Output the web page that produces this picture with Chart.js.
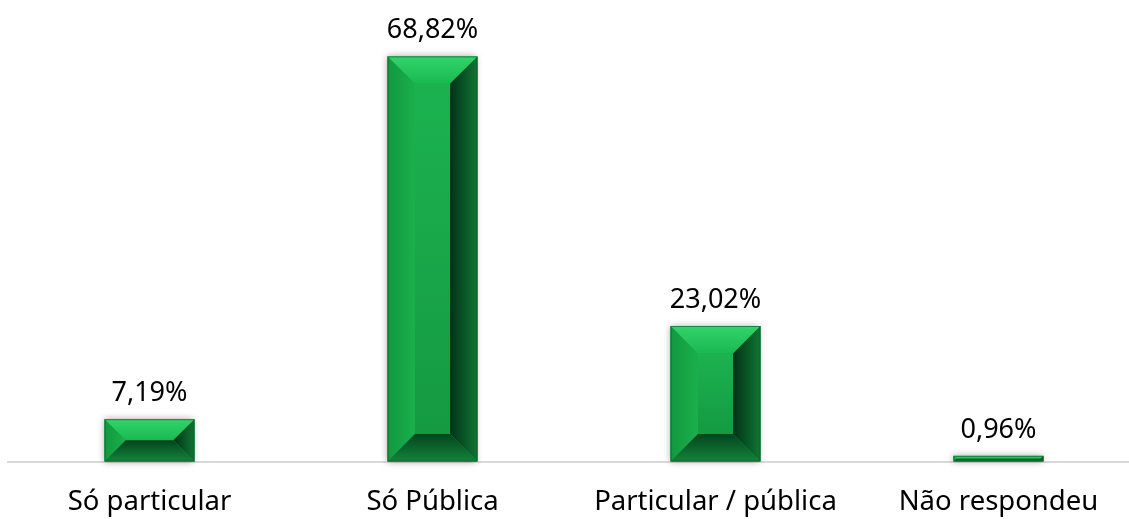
<!DOCTYPE html>
<html>
<head>
<meta charset="utf-8">
<script src="https://cdn.jsdelivr.net/npm/chart.js@4/dist/chart.umd.min.js"></script>
<style>
  html, body { margin: 0; padding: 0; background: #fff; overflow: hidden; }
  #wrap { position: absolute; left: 0; top: 0; width: 1140px; height: 519px; }
</style>
</head>
<body>
<div id="wrap"><canvas id="chart"></canvas></div>
<script>
// categories and values (percent)
const categories = ['Só particular', 'Só Pública', 'Particular / pública', 'Não respondeu'];
const values = [7.19, 68.82, 23.02, 0.96];

const fmtPct = v => v.toFixed(2).replace('.', ',') + '%';

// bevelled green bars + value labels on top
const bevelBars = {
    id: 'bevelBars',
    afterDatasetsDraw(chart) {
        const ctx = chart.ctx;
        const meta = chart.getDatasetMeta(0);
        meta.data.forEach((bar, i) => {
            const p = bar.getProps(['x', 'y', 'base', 'width'], true);
            const l = p.x - p.width / 2, r = p.x + p.width / 2;
            const t = p.y, b = p.base;
            const h = b - t;
            const d = Math.min(p.width * 0.305, h / 2);
            const il = l + d, ir = r - d, it = t + d, ib = b - d;

            ctx.save();
            // soft shadow
            ctx.shadowColor = 'rgba(0,0,0,0.35)';
            ctx.shadowBlur = 7;
            ctx.shadowOffsetX = -1;
            ctx.fillStyle = '#15a346';
            ctx.fillRect(l, t, r - l, h);
            ctx.restore();

            ctx.save();
            const face = (pts, fill) => {
                ctx.beginPath();
                ctx.moveTo(pts[0][0], pts[0][1]);
                for (let k = 1; k < pts.length; k++) ctx.lineTo(pts[k][0], pts[k][1]);
                ctx.closePath();
                ctx.fillStyle = fill;
                ctx.fill();
            };
            // top face
            let g = ctx.createLinearGradient(0, t, 0, it);
            g.addColorStop(0, '#33d46c'); g.addColorStop(1, '#1ab851');
            face([[l, t], [r, t], [ir, it], [il, it]], g);
            // left face
            g = ctx.createLinearGradient(l, 0, il, 0);
            g.addColorStop(0, '#12983f'); g.addColorStop(1, '#1ab04d');
            face([[l, t], [il, it], [il, ib], [l, b]], g);
            // right face
            g = ctx.createLinearGradient(ir, 0, r, 0);
            g.addColorStop(0, '#02301a'); g.addColorStop(0.5, '#085524'); g.addColorStop(1, '#117535');
            face([[r, t], [r, b], [ir, ib], [ir, it]], g);
            // bottom face
            g = ctx.createLinearGradient(0, ib, 0, b);
            g.addColorStop(0, '#05441d'); g.addColorStop(1, '#12853a');
            face([[l, b], [il, ib], [ir, ib], [r, b]], g);
            // centre face
            if (ib > it) {
                g = ctx.createLinearGradient(0, it, 0, ib);
                g.addColorStop(0, '#1cb250'); g.addColorStop(1, '#159a42');
                ctx.fillStyle = g;
                ctx.fillRect(il, it, ir - il, ib - it);
            }
            ctx.strokeStyle = 'rgba(10,80,35,0.6)';
            ctx.lineWidth = 1;
            ctx.strokeRect(l + 0.5, t + 0.5, r - l - 1, h - 1);

            // value label
            ctx.fillStyle = '#000';
            ctx.font = '27px "Noto Sans"';
            ctx.textAlign = 'center';
            ctx.textBaseline = 'alphabetic';
            ctx.fillText(fmtPct(values[i]), p.x, t - 18);
            ctx.restore();
        });
    }
};

new Chart(document.getElementById('chart'), {
    type: 'bar',
    data: {
        labels: categories,
        datasets: [{
            data: values,
            backgroundColor: 'rgba(0,0,0,0)',
            borderWidth: 0,
            categoryPercentage: 1,
            barPercentage: 0.318
        }]
    },
    options: {
        responsive: true, maintainAspectRatio: false,
        animation: false,
        layout: { padding: { left: 8, right: 0, top: 0, bottom: 0 } },
        plugins: { legend: { display: false }, tooltip: { enabled: false } },
        scales: {
            x: {
                grid: { display: false, drawTicks: false },
                border: { display: true, color: '#d9d9d9', width: 2 },
                ticks: { color: '#000', font: { family: 'Noto Sans', size: 27.5 }, padding: 24, maxRotation: 0, autoSkip: false },
                afterFit: s => { s.height = 57.5; }
            },
            y: { display: false, min: 0, max: 78.4 }
        }
    },
    plugins: [bevelBars]
});
</script>
</body>
</html>
